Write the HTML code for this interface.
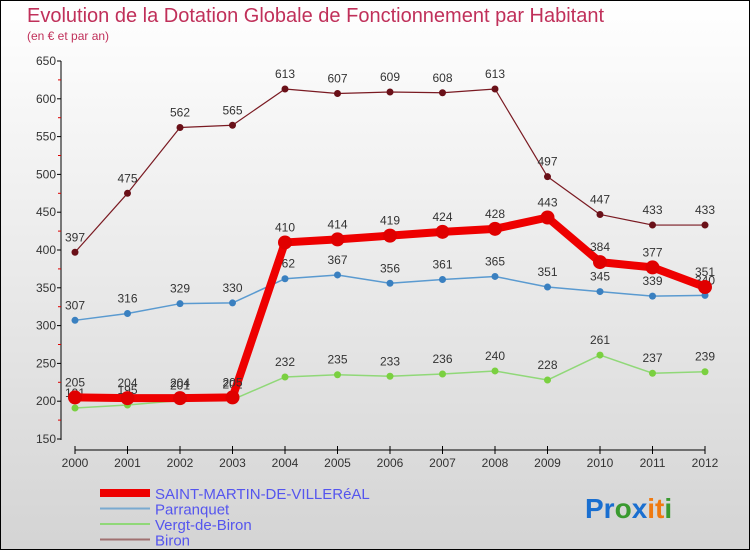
<!DOCTYPE html>
<html><head><meta charset="utf-8"><style>
body{margin:0}
#c{width:750px;height:550px;position:relative;background:linear-gradient(#fff,#d4d4d4);box-sizing:border-box;border:1px solid #000;font-family:"Liberation Sans",sans-serif;overflow:hidden}
</style></head><body>
<div id="c">
<svg id="s" width="750" height="550" style="position:absolute;left:-1px;top:-1px">
<text x="27" y="22" font-size="20" fill="#c0305a">Evolution de la Dotation Globale de Fonctionnement par Habitant</text>
<text x="27" y="40" font-size="12" fill="#c0305a">(en € et par an)</text>
<g id="ax"></g><g id="pl"></g><g id="lg"></g>
<text x="585" y="518" font-size="28" font-weight="bold"><tspan fill="#1a6fd0">Pr</tspan><tspan fill="#3a9a30">o</tspan><tspan fill="#1a6fd0">x</tspan><tspan fill="#f07a10">it</tspan><tspan fill="#3a9a30">i</tspan></text>
</svg>
</div>
<script>
const years=["2000","2001","2002","2003","2004","2005","2006","2007","2008","2009","2010","2011","2012"];
const yTicks=[150,200,250,300,350,400,450,500,550,600,650];
const saint=[205,204,204,205,410,414,419,424,428,443,384,377,351];
const parr=[307,316,329,330,362,367,356,361,365,351,345,339,340];
const vergt=[191,195,201,202,232,235,233,236,240,228,261,237,239];
const biron=[397,475,562,565,613,607,609,608,613,497,447,433,433];
const seriesNames=["SAINT-MARTIN-DE-VILLERéAL","Parranquet","Vergt-de-Biron","Biron"];
const NS="http://www.w3.org/2000/svg";
const X=i=>75+i*(705-75)/12, Y=v=>439-(v-150)*(378/500);
function mk(p,t,a){const e=document.createElementNS(NS,t);for(const k in a)e.setAttribute(k,a[k]);p.appendChild(e);return e;}
const ax=document.getElementById('ax'),pl=document.getElementById('pl'),lg=document.getElementById('lg');
let e=mk(ax,'line',{x1:61,y1:61,x2:61,y2:440,stroke:'#000'});

e=mk(ax,'line',{x1:75,y1:450,x2:705,y2:450,stroke:'#000'});

yTicks.forEach((v,i)=>{mk(ax,'line',{x1:57,x2:61,y1:Y(v),y2:Y(v),stroke:'#000'});
 if(i<yTicks.length-1)mk(ax,'line',{x1:58,x2:61,y1:Y(v+25),y2:Y(v+25),stroke:'#d00'});
 const t=mk(ax,'text',{x:56,y:Y(v)+4,'text-anchor':'end','font-size':12,fill:'#333'});t.textContent=v;
 });
years.forEach((y,i)=>{mk(ax,'line',{x1:X(i),x2:X(i),y1:446,y2:454,stroke:'#000'});
 const t=mk(ax,'text',{x:X(i),y:467,'text-anchor':'middle','font-size':12,fill:'#333'});t.textContent=y;
 });
const S=[[biron,'#7a1a22',1.2,3.5,'biron'],[vergt,'#90d878',1.5,3.5,'vergt-de-biron'],[parr,'#5a9ad0',1.5,3.5,'parranquet'],[saint,'#ee0000',8,7,'saint-martin']];
S.forEach(([d,c,w,r,n])=>{
 const pts=d.map((v,i)=>X(i)+','+Y(v)).join(' ');
 const l=mk(pl,'polyline',{points:pts,fill:'none',stroke:c,'stroke-width':w,'stroke-linejoin':'round'});
 
 const fc=n=='biron'?'#6a1018':n=='vergt-de-biron'?'#7ad040':n=='parranquet'?'#3a80c0':'#e00000';
 d.forEach((v,i)=>{const p=mk(pl,'circle',{cx:X(i),cy:Y(v),r:r,fill:fc});
  
  const t=mk(pl,'text',{x:X(i),y:Y(v)-11,'text-anchor':'middle','font-size':12,fill:'#333'});t.textContent=v;
  });
});
const lc=[['#ee0000',8],['#7aaad0',2],['#90d878',2],['#a07070',2]];
seriesNames.forEach((nm,i)=>{const y=493+i*15.5;
 const l=mk(lg,'line',{x1:100,x2:150,y1:y,y2:y,stroke:lc[i][0],'stroke-width':lc[i][1]});
 
 const t=mk(lg,'text',{x:155,y:y+6,'font-size':15,fill:'#5555ee'});t.textContent=nm;
 });
</script>
</body></html>
